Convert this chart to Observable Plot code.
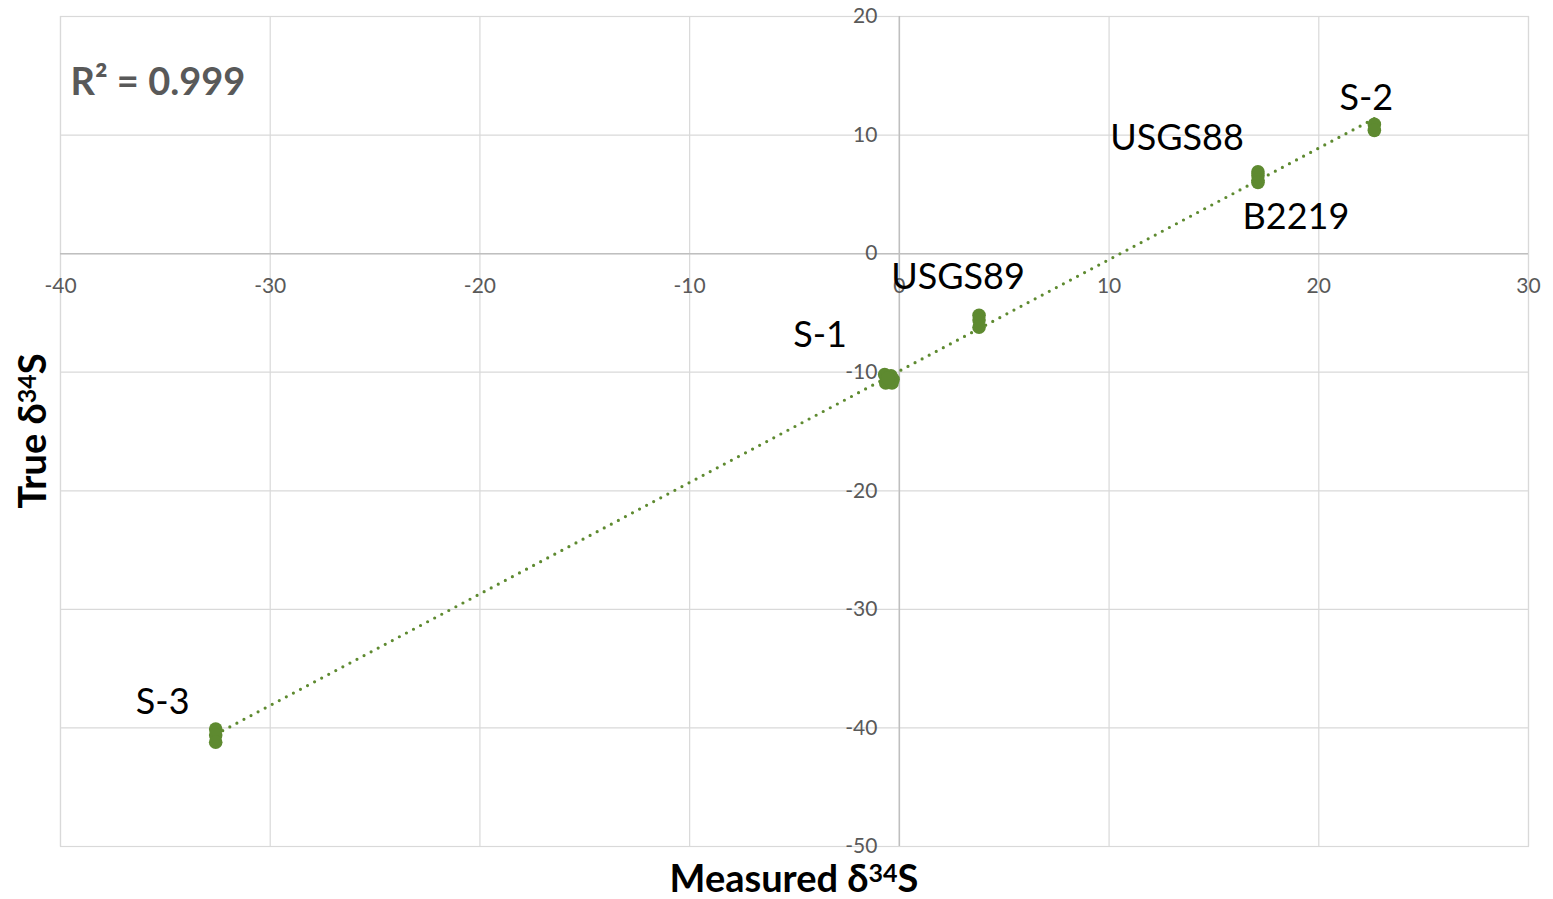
<!DOCTYPE html>
<html>
<head>
<meta charset="utf-8">
<script src="https://cdn.jsdelivr.net/npm/d3@7"></script>
<script src="https://cdn.jsdelivr.net/npm/@observablehq/plot@0.6"></script>
<style>
  body { margin: 0; background: #fff; }
  #chart svg { display: block; }
</style>
</head>
<body>
<div id="chart"></div>
<script>
// ---- data ----
const sampleNames = ["S-3","S-3","S-3",
  "S-1","S-1","S-1","S-1","S-1","S-1",
  "USGS89","USGS89","USGS89",
  "USGS88","USGS88",
  "B2219","B2219",
  "S-2","S-2"];
const measured = [-32.6,-32.6,-32.6,
  -0.7,-0.65,-0.4,-0.3,-0.35,-0.55,
  3.8,3.8,3.8,
  17.1,17.1,
  17.1,17.1,
  22.65,22.65];
const trueValues = [-40.1,-40.6,-41.2,
  -10.2,-10.9,-10.3,-10.6,-10.9,-10.5,
  -5.2,-5.6,-6.2,
  6.9,6.6,
  6.2,6.0,
  10.9,10.4];
const labelNames = ["S-3","S-1","USGS89","USGS88","B2219","S-2"];
const xTicks = [-40,-30,-20,-10,0,10,20,30];
const xTickLabels = ["-40","-30","-20","-10","0","10","20","30"];
const yTicks = [-50,-40,-30,-20,-10,0,10,20];
const yTickLabels = ["-50","-40","-30","-20","-10","0","10","20"];
const r2Text = "R² = 0.999";
const xTitle = ["Measured δ", "34", "S"];
const yTitle = ["True δ", "34", "S"];

// ---- layout / style ----
const W = 1553, H = 899;
const M = {left: 60, right: 25, top: 16, bottom: 53};
const green = "#5e8a30";
const font = "Lato, 'Open Sans', sans-serif";
const labelOffsets = {
  "S-3": [-53, -33], "S-1": [-69, -43], "USGS89": [-21, -43],
  "USGS88": [-81, -35], "B2219": [38, 36], "S-2": [-8, -29]
};

const points = sampleNames.map((s, i) => ({sample: s, x: measured[i], y: trueValues[i]}));
const groups = labelNames.map(name => {
  const pts = points.filter(p => p.sample === name);
  return {name, x: d3.mean(pts, p => p.x), y: d3.mean(pts, p => p.y)};
});

const svg = Plot.plot({
  width: W, height: H,
  marginLeft: M.left, marginRight: M.right, marginTop: M.top, marginBottom: M.bottom,
  style: {fontFamily: font, background: "#fff"},
  x: {domain: [-40, 30], axis: null},
  y: {domain: [-50, 20], axis: null},
  marks: [
    Plot.gridX(xTicks, {stroke: "#d9d9d9", strokeOpacity: 1, strokeWidth: 1.2}),
    Plot.gridY(yTicks, {stroke: "#d9d9d9", strokeOpacity: 1, strokeWidth: 1.2}),
    Plot.frame({stroke: "#d9d9d9", strokeWidth: 1.2}),
    Plot.ruleY([0], {stroke: "#bfbfbf", strokeWidth: 1.5}),
    Plot.ruleX([0], {stroke: "#bfbfbf", strokeWidth: 1.5}),
    Plot.text(xTicks, {x: d => d, y: d => 0, text: (d, i) => xTickLabels[i],
      dy: 33, fontSize: 21, fill: "#595959", textAnchor: "middle"}),
    Plot.text(yTicks, {x: d => 0, y: d => d, text: (d, i) => yTickLabels[i],
      dx: -22, fontSize: 21, fill: "#595959", textAnchor: "end"}),
    Plot.linearRegressionY(points, {x: "x", y: "y", ci: 0, stroke: green,
      strokeWidth: 3.2, strokeDasharray: "0,8", strokeLinecap: "round"}),
    Plot.dot(points, {x: "x", y: "y", r: 6.8, fill: green, stroke: "none"}),
    ...groups.map(g => Plot.text([g], {x: "x", y: "y", text: "name",
      dx: labelOffsets[g.name][0], dy: labelOffsets[g.name][1],
      fontSize: 36, fill: "#000", textAnchor: "middle"})),
    Plot.text([r2Text], {frameAnchor: "top-left", dx: 10, dy: 66, fontSize: 38,
      fontWeight: "bold", fill: "#595959", textAnchor: "start", lineAnchor: "middle"})
  ]
});

// axis titles with superscripts
const s = d3.select(svg);
function addTitle(parts, attrs) {
  const t = s.append("text")
    .attr("font-family", font).attr("font-weight", "bold")
    .attr("font-size", 38).attr("fill", "#000").attr("text-anchor", "middle");
  Object.entries(attrs).forEach(([k, v]) => t.attr(k, v));
  t.append("tspan").text(parts[0]);
  t.append("tspan").attr("font-size", 25).attr("dy", "-0.42em").text(parts[1]);
  t.append("tspan").attr("dy", "0.28em").text(parts[2]);
  return t;
}
const frameCx = (M.left + (W - M.right)) / 2;
const frameCy = (M.top + (H - M.bottom)) / 2;
addTitle(xTitle, {x: frameCx, y: H - 7});
addTitle(yTitle, {transform: `translate(46,${frameCy}) rotate(-90)`});

document.getElementById("chart").appendChild(svg);
</script>
</body>
</html>
